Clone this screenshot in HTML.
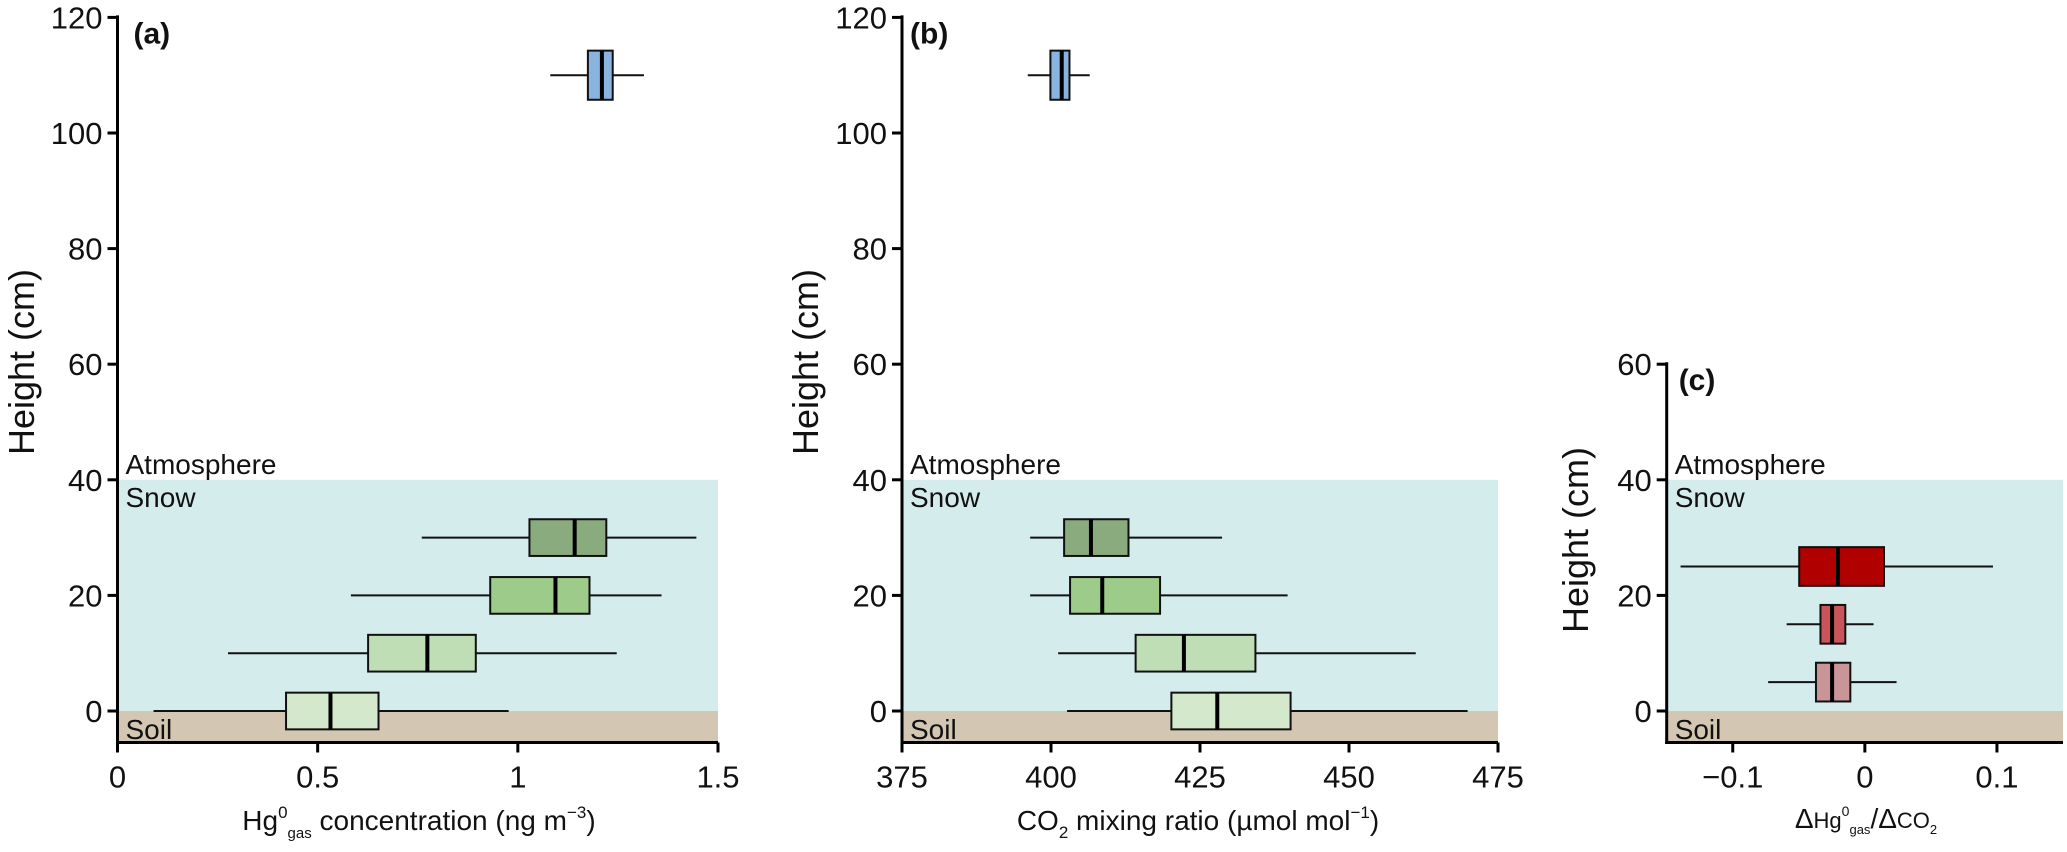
<!DOCTYPE html>
<html><head><meta charset="utf-8"><style>
html,body{margin:0;padding:0;background:#fff;}
svg text{font-family:"Liberation Sans",sans-serif;fill:#111;}
</style></head><body>
<svg id="fig" width="2067" height="847" viewBox="0 0 2067 847" xmlns="http://www.w3.org/2000/svg"></svg>
<script>
// Panel (a) data: Hg0 gas concentration
const aHeights = [110, 30, 20, 10, 0];
const aWhiskLo = [1.081, 0.760, 0.583, 0.276, 0.090];
const aQ1 = [1.175, 1.029, 0.931, 0.626, 0.421];
const aMed = [1.210, 1.142, 1.094, 0.774, 0.532];
const aQ3 = [1.237, 1.221, 1.179, 0.895, 0.652];
const aWhiskHi = [1.315, 1.446, 1.359, 1.247, 0.977];
const aXTicks = [0, 0.5, 1, 1.5];
const aXTickLabels = ["0", "0.5", "1", "1.5"];
// Panel (b) data: CO2 mixing ratio
const bHeights = [110, 30, 20, 10, 0];
const bWhiskLo = [396.1, 396.5, 396.5, 401.2, 402.7];
const bQ1 = [399.9, 402.2, 403.2, 414.2, 420.2];
const bMed = [401.8, 406.7, 408.6, 422.3, 427.9];
const bQ3 = [403.1, 413.0, 418.3, 434.3, 440.2];
const bWhiskHi = [406.5, 428.7, 439.7, 461.2, 469.9];
const bXTicks = [375, 400, 425, 450, 475];
const bXTickLabels = ["375", "400", "425", "450", "475"];
// Panel (c) data: dHg/dCO2
const cHeights = [25, 15, 5];
const cWhiskLo = [-0.1395, -0.0592, -0.0732];
const cQ1 = [-0.0497, -0.0336, -0.037];
const cMed = [-0.0203, -0.0248, -0.0248];
const cQ3 = [0.0145, -0.0148, -0.011];
const cWhiskHi = [0.097, 0.0066, 0.024];
const cXTicks = [-0.1, 0, 0.1];
const cXTickLabels = ["\u22120.1", "0", "0.1"];
const abYTicks = [0, 20, 40, 60, 80, 100, 120];
const cYTicks = [0, 20, 40, 60];

const NS = "http://www.w3.org/2000/svg";
const svg = document.getElementById("fig");
function mk(tag, attrs, parent) {
  const e = document.createElementNS(NS, tag);
  for (const k in attrs) e.setAttribute(k, attrs[k]);
  (parent || svg).appendChild(e);
  return e;
}
const Y0 = 711, PXCM = 5.78;
function yS(v) { return Y0 - v * PXCM; }
const yBottom = yS(-5.45);

function panel(o) {
  const g = mk("g", {});
  
  
  const xS = v => o.x0 + (v - o.d0) / (o.d1 - o.d0) * (o.x1 - o.x0);
  const snow = mk("rect", {x: o.x0, y: yS(40), width: o.x1 - o.x0, height: yS(0) - yS(40), fill: "#d5ecec"}, g);
  
  
  const soil = mk("rect", {x: o.x0, y: yS(0), width: o.x1 - o.x0, height: yBottom - yS(0), fill: "#d3c6b2"}, g);
  
  
  const labs = [["Atmosphere", yS(40) - 6, "atmosphere-label"], ["Snow", yS(40) + 27, "snow-label"], ["Soil", yS(0) + 28, "soil-label"]];
  labs.forEach(l => {
    const t = mk("text", {x: o.x0 + 8, y: l[1], "font-size": 28}, g);
    t.textContent = l[0];
    
    
  });
  const hb = o.boxH;
  o.h.forEach((h, i) => {
    const bg = mk("g", {}, g);
    
    
    const cy = yS(h);
    const half = (h > 100 ? 8.5 : hb) * PXCM / 2;
    mk("line", {x1: xS(o.lo[i]), x2: xS(o.hi[i]), y1: cy, y2: cy, stroke: "#111", "stroke-width": 2}, bg);
    mk("rect", {x: xS(o.q1[i]), y: cy - half, width: xS(o.q3[i]) - xS(o.q1[i]), height: half * 2, fill: o.colors[i], stroke: "#111", "stroke-width": 2}, bg);
    mk("line", {x1: xS(o.med[i]), x2: xS(o.med[i]), y1: cy - half, y2: cy + half, stroke: "#000", "stroke-width": 4}, bg);
  });
  const ya = mk("line", {x1: o.x0, x2: o.x0, y1: yS(o.yMax) - 2, y2: yBottom + 1.5, stroke: "#000", "stroke-width": 3}, g);
  
  
  const xa = mk("line", {x1: o.x0 - 1.5, x2: o.x1, y1: yBottom, y2: yBottom, stroke: "#000", "stroke-width": 3}, g);
  
  
  o.yTicks.forEach(v => {
    mk("line", {x1: o.x0 - 10, x2: o.x0, y1: yS(v), y2: yS(v), stroke: "#000", "stroke-width": 3}, g);
    const t = mk("text", {x: o.x0 - 15, y: yS(v) + 11, "font-size": 31, "text-anchor": "end"}, g);
    t.textContent = v;
    
    
  });
  o.xTicks.forEach((v, i) => {
    mk("line", {x1: xS(v), x2: xS(v), y1: yBottom, y2: yBottom + 10, stroke: "#000", "stroke-width": 3}, g);
    const t = mk("text", {x: xS(v), y: yBottom + 45, "font-size": 31, "text-anchor": "middle"}, g);
    t.textContent = o.xLabels[i];
    
    
  });
  const yt = mk("text", {x: 0, y: 0, "font-size": 36, "text-anchor": "middle", transform: "translate(" + o.ytX + "," + o.ytY + ") rotate(-90)"}, g);
  yt.textContent = "Height (cm)";
  
  
  const pl = mk("text", {x: o.x0 + o.plOff, y: yS(o.yMax) + 26, "font-size": 30, "font-weight": "bold"}, g);
  pl.textContent = o.label;
  
  
  const xt = mk("text", {x: o.xtX, y: o.xtY, "font-size": 28, "text-anchor": "middle"}, g);
  xt.innerHTML = o.xTitle;
  
  
}
const greens = ["#8ab4e0", "#8aab7e", "#9ccb8a", "#bfdeb5", "#d4e8cc"];
panel({name: "panel-a", label: "(a)", x0: 117.5, x1: 718, d0: 0, d1: 1.5, h: aHeights, lo: aWhiskLo, q1: aQ1, med: aMed, q3: aQ3, hi: aWhiskHi,
  colors: greens, boxH: 6.35, yMax: 120, yTicks: abYTicks, xTicks: aXTicks, xLabels: aXTickLabels, ytX: 34, ytY: 362, plOff: 16,
  xtX: 419, xtY: 830, xTitle: 'Hg<tspan dy="-12" font-size="17">0</tspan><tspan dy="20" font-size="15">gas</tspan><tspan dy="-8"> concentration (ng m</tspan><tspan dy="-12" font-size="17">\u22123</tspan><tspan dy="12">)</tspan>'});
panel({name: "panel-b", label: "(b)", x0: 902, x1: 1498, d0: 375, d1: 475, h: bHeights, lo: bWhiskLo, q1: bQ1, med: bMed, q3: bQ3, hi: bWhiskHi,
  colors: greens, boxH: 6.35, yMax: 120, yTicks: abYTicks, xTicks: bXTicks, xLabels: bXTickLabels, ytX: 818, ytY: 362, plOff: 8,
  xtX: 1198, xtY: 830, xTitle: 'CO<tspan dy="8" font-size="17">2</tspan><tspan dy="-8"> mixing ratio (\u00b5mol mol</tspan><tspan dy="-12" font-size="17">\u22121</tspan><tspan dy="12">)</tspan>'});
panel({name: "panel-c", label: "(c)", x0: 1666.7, x1: 2063, d0: -0.15, d1: 0.15, h: cHeights, lo: cWhiskLo, q1: cQ1, med: cMed, q3: cQ3, hi: cWhiskHi,
  colors: ["#b00000", "#c9555a", "#c99597"], boxH: 6.7, yMax: 60, yTicks: cYTicks, xTicks: cXTicks, xLabels: cXTickLabels, ytX: 1588, ytY: 540, plOff: 12,
  xtX: 1866, xtY: 828, xTitle: '\u0394<tspan font-size="22">Hg</tspan><tspan dy="-12" font-size="14">0</tspan><tspan dy="18" font-size="13">gas</tspan><tspan dy="-6">/\u0394</tspan><tspan font-size="22">CO</tspan><tspan dy="6" font-size="13">2</tspan>'});
</script>
</body></html>
